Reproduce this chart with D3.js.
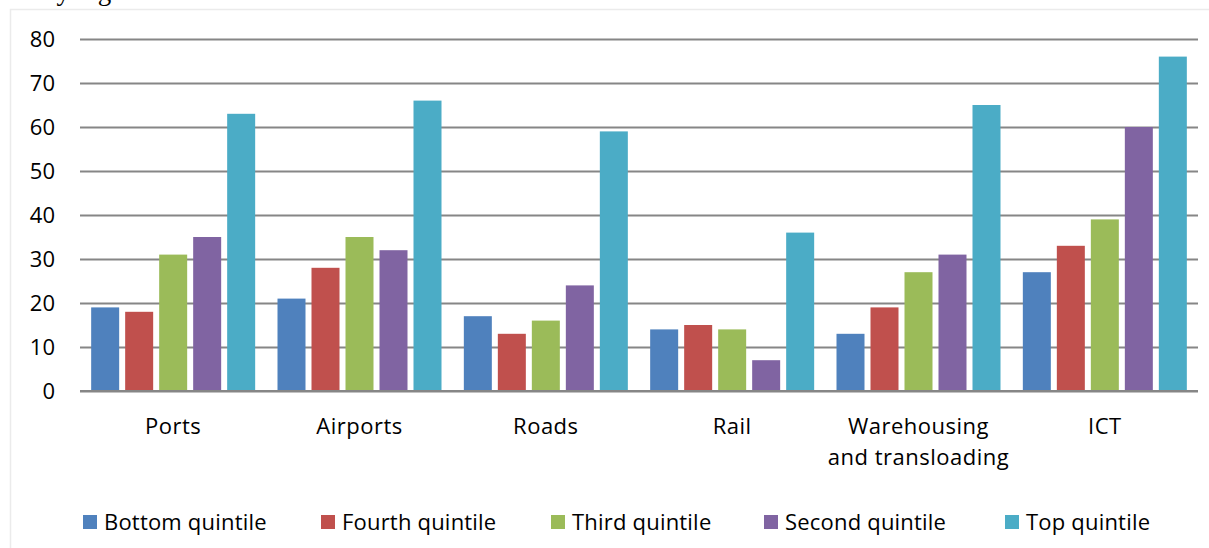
<!DOCTYPE html>
<html>
<head>
<meta charset="utf-8">
<script src="https://cdn.jsdelivr.net/npm/d3@7"></script>
<style>
  html, body { margin: 0; padding: 0; background: #fff; }
  svg { display: block; }
  text { font-family: "Open Sans", "Noto Sans", sans-serif; fill: #000; }
</style>
</head>
<body>
<svg id="chart" width="1209" height="548"></svg>
<script>
const categories = ["Ports", "Airports", "Roads", "Rail", "Warehousing\nand transloading", "ICT"];
const seriesNames = ["Bottom quintile", "Fourth quintile", "Third quintile", "Second quintile", "Top quintile"];
const seriesColors = ["#4f81bd", "#c0504d", "#9bbb59", "#8064a2", "#4bacc6"];
const bottomQuintile = [19, 21, 17, 14, 13, 27];
const fourthQuintile = [18, 28, 13, 15, 19, 33];
const thirdQuintile  = [31, 35, 16, 14, 27, 39];
const secondQuintile = [35, 32, 24, 7, 31, 60];
const topQuintile    = [63, 66, 59, 36, 65, 76];
const yTicks = [0, 10, 20, 30, 40, 50, 60, 70, 80];

const seriesValues = [bottomQuintile, fourthQuintile, thirdQuintile, secondQuintile, topQuintile];

const svg = d3.select("#chart");

// faint outer frame + clipped heading text
svg.append("rect").attr("x", 10.5).attr("y", 9.5).attr("width", 1210).attr("height", 560)
  .attr("fill", "none").attr("stroke", "#ebebeb").attr("stroke-width", 1.5);
svg.append("text").attr("x", 22).attr("y", 0).style("font-family", "'Liberation Serif', serif")
  .style("font-size", "27px").text("very high");

const margin = { left: 80, right: 11, top: 39, bottom: 157 };
const W = 1209, H = 548;
const x0 = d3.scaleBand().domain(d3.range(categories.length)).range([margin.left, W - margin.right]).paddingInner(0).paddingOuter(0);
const groupW = 164;
const x1 = d3.scaleBand().domain(d3.range(seriesNames.length)).range([0, groupW]).paddingInner(6 / 34).paddingOuter(0);
const y = d3.scaleLinear().domain([0, 80]).range([H - margin.bottom, margin.top]);

// gridlines
const yAxis = d3.axisLeft(y).tickValues(yTicks).tickSize(-(W - margin.left - margin.right)).tickPadding(25);
const gy = svg.append("g").attr("transform", `translate(${margin.left},0)`).call(yAxis);
gy.select(".domain").remove();
gy.selectAll(".tick line").attr("stroke", "#868686").attr("stroke-width", 2);
gy.selectAll(".tick text").style("font-size", "22px").attr("fill", "#000").attr("dy", "0.34em");

// bars
const groups = svg.append("g").selectAll("g").data(categories).join("g")
  .attr("transform", (d, i) => `translate(${x0(i) + x0.bandwidth() / 2 - groupW / 2},0)`);
groups.selectAll("rect").data((d, i) => seriesValues.map((s, j) => ({ j, v: s[i] }))).join("rect")
  .attr("x", d => x1(d.j)).attr("width", x1.bandwidth())
  .attr("y", d => y(d.v)).attr("height", d => y(0) - y(d.v))
  .attr("fill", d => seriesColors[d.j]);

// baseline axis
svg.append("line").attr("x1", margin.left).attr("x2", W - margin.right)
  .attr("y1", y(0)).attr("y2", y(0)).attr("stroke", "#868686").attr("stroke-width", 2);

// category labels
const xl = svg.append("g");
categories.forEach((c, i) => {
  const t = xl.append("text").attr("x", x0(i) + x0.bandwidth() / 2).attr("y", 434)
    .attr("text-anchor", "middle").style("font-size", "22px").style("letter-spacing", "0.5px");
  c.split("\n").forEach((line, k) => {
    t.append("tspan").attr("x", x0(i) + x0.bandwidth() / 2).attr("dy", k === 0 ? 0 : 31).text(line);
  });
});

// legend
const legendX = [83, 321, 551, 764, 1005];
const lg = svg.append("g");
seriesNames.forEach((n, j) => {
  lg.append("rect").attr("x", legendX[j]).attr("y", 515).attr("width", 14).attr("height", 14).attr("fill", seriesColors[j]);
  lg.append("text").attr("x", legendX[j] + 21).attr("y", 530).style("font-size", "22px")
    .style("letter-spacing", "0.2px").text(n);
});
</script>
</body>
</html>
